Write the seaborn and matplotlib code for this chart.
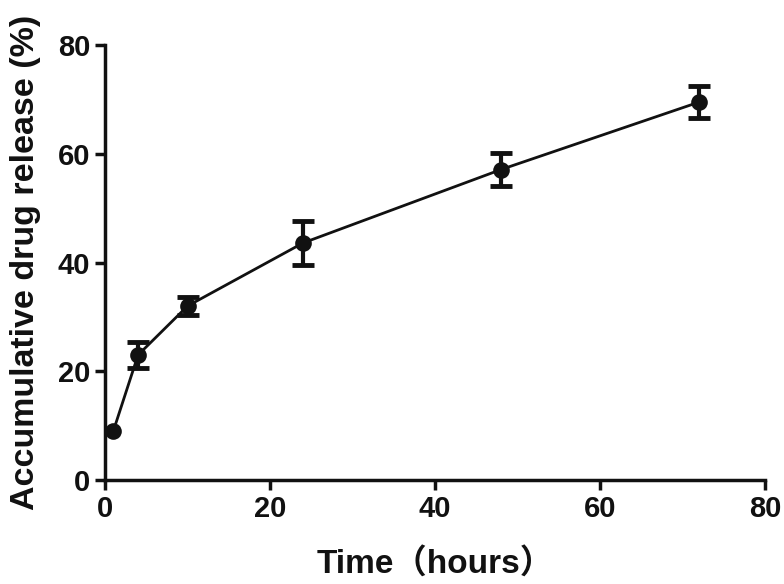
import matplotlib
matplotlib.use("Agg")
import matplotlib.pyplot as plt
import seaborn as sns
import pandas as pd

# data
time_h = [1, 4, 10, 24, 48, 72]
release = [9.0, 23.0, 32.0, 43.6, 57.1, 69.5]
release_sd = [0.0, 2.4, 1.7, 4.1, 3.0, 3.0]

df = pd.DataFrame({"time": time_h, "release": release, "sd": release_sd})
err = df[df["sd"] > 0]

sns.set_style("ticks")
plt.rcParams['font.family'] = ['Liberation Sans', 'Noto Sans CJK SC', 'DejaVu Sans']
plt.rcParams['font.weight'] = 'bold'

fig, ax = plt.subplots(figsize=(7.84, 5.84), dpi=100)
fig.subplots_adjust(left=0.134, right=0.976, bottom=0.178, top=0.923)

ax.errorbar(err["time"], err["release"], yerr=err["sd"], fmt="none",
            ecolor="#111111", elinewidth=3, capsize=8, capthick=3.5, zorder=2)
sns.lineplot(data=df, x="time", y="release", ax=ax, color="#111111",
             linewidth=2, marker="o", markersize=12, markeredgewidth=0, zorder=3)

ax.set_xlim(0, 80)
ax.set_ylim(0, 80)
ax.set_xticks([0, 20, 40, 60, 80])
ax.set_yticks([0, 20, 40, 60, 80])
ax.spines[['top', 'right']].set_visible(False)
for s in ['left', 'bottom']:
    ax.spines[s].set_linewidth(2.5)
    ax.spines[s].set_color("#111111")
ax.tick_params(width=2.5, length=7, labelsize=21, color="#111111", labelcolor="#111111")
for lab in ax.get_xticklabels() + ax.get_yticklabels():
    lab.set_fontweight('bold')

ax.set_xlabel("Time（hours）", fontsize=24, fontweight='bold', labelpad=18, color="#111111")
ax.set_ylabel("Accumulative drug release (%)", fontsize=24.5, fontweight='bold', labelpad=12, color="#111111")

fig.savefig("out.png", dpi=100)
